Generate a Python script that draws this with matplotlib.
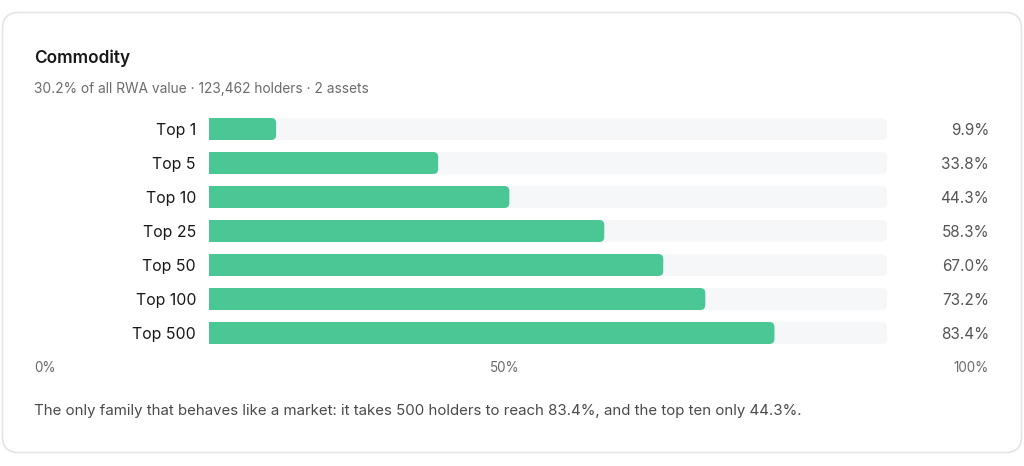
import matplotlib.pyplot as plt
from matplotlib.patches import FancyBboxPatch, Rectangle

plt.rcParams['font.family'] = ['Inter', 'DejaVu Sans']

# Data
labels = ['Top 1', 'Top 5', 'Top 10', 'Top 25', 'Top 50', 'Top 100', 'Top 500']
shares = [9.9, 33.8, 44.3, 58.3, 67.0, 73.2, 83.4]
ticks = ['0%', '50%', '100%']
title = 'Commodity'
subtitle = '30.2% of all RWA value · 123,462 holders · 2 assets'
note = ('The only family that behaves like a market: it takes 500 holders to reach 83.4%, '
        'and the top ten only 44.3%.')

W, H = 1024, 466
fig = plt.figure(figsize=(W / 100, H / 100), dpi=100)

# background layer in pixel coords
bg = fig.add_axes([0, 0, 1, 1])
bg.set_xlim(0, W)
bg.set_ylim(H, 0)
bg.axis('off')
bg.add_patch(FancyBboxPatch((2.5, 12.5), 1019, 440, boxstyle='round,pad=0,rounding_size=16',
                            facecolor='white', edgecolor='#e4e4e7', linewidth=1.2))

bg.text(34, 58.5, title, fontsize=12.4, fontweight='semibold', color='#18181b', va='center')
bg.text(34, 88.5, subtitle, fontsize=9.9, color='#6b6b6b', va='center')
bg.text(34, 411.5, note, fontsize=10.8, color='#4a4a4a', va='center')

# tick labels spread across the card
bg.text(34, 367.5, ticks[0], fontsize=9.7, color='#6b6b6b', va='center', ha='left')
bg.text(505, 367.5, ticks[1], fontsize=9.7, color='#6b6b6b', va='center', ha='center')
bg.text(989, 367.5, ticks[2], fontsize=9.7, color='#6b6b6b', va='center', ha='right')

# bar axes
x0, x1 = 209, 887
top, bot = 112, 350
ax = fig.add_axes([x0 / W, 1 - bot / H, (x1 - x0) / W, (bot - top) / H])
ax.set_xlim(0, 100)
ax.set_ylim(len(labels) - 0.5, -0.5)
ax.axis('off')

px_x = 100 / (x1 - x0)      # data units per pixel in x
px_y = 1 / 34               # data units per pixel in y
asp = px_y / px_x
r = 5 * px_x
bh = 22 * px_y
dy = 1.8 * px_y

green = '#4bc795'
for i, (lab, v) in enumerate(zip(labels, shares)):
    ax.add_patch(FancyBboxPatch((0, i - bh / 2), 100, bh,
                                boxstyle=f'round,pad=0,rounding_size={r}',
                                mutation_aspect=asp, facecolor='#f6f7f9', edgecolor='none'))
    ax.add_patch(FancyBboxPatch((0, i - bh / 2), v, bh,
                                boxstyle=f'round,pad=0,rounding_size={r}',
                                mutation_aspect=asp, facecolor=green, edgecolor='none'))
    ax.add_patch(Rectangle((0, i - bh / 2), min(v / 2, 3), bh, facecolor=green, edgecolor='none'))
    ax.text(-13 * px_x, i + dy, lab, fontsize=11.4, color='#18181b', ha='right', va='center')
    ax.text(100 + (989 - x1) * px_x, i + dy, f'{v:.1f}%', fontsize=11, color='#555555',
            ha='right', va='center')

fig.savefig('out.png', dpi=100, facecolor='white')
